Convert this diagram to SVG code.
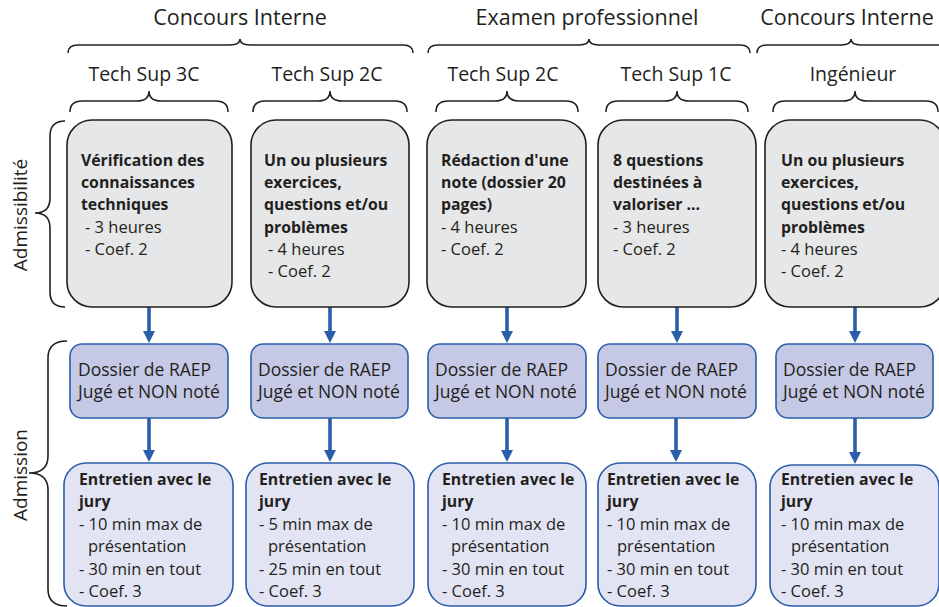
<svg xmlns="http://www.w3.org/2000/svg" width="939" height="607" viewBox="0 0 939 607">
<style>
text{font-family:"Open Sans",Lato,"DejaVu Sans",sans-serif;fill:#231f20}
.h1{font-size:21.5px;text-anchor:middle}
.h2{font-size:19.5px;text-anchor:middle}
.b{font-size:15.8px;font-weight:bold}
.n{font-size:16.5px}
.d{font-size:17.5px}
.brace{fill:none;stroke:#231f20;stroke-width:1.6}
.gray{fill:#e6e7e8;stroke:#231f20;stroke-width:1.6}
.dos{fill:#c5c9e6;stroke:#2b5dab;stroke-width:1.6}
.ent{fill:#e2e4f3;stroke:#2b5dab;stroke-width:1.6}
.arr{stroke:#2b5dab;stroke-width:3.6;fill:none;marker-end:url(#ah)}
.side{font-size:19px;text-anchor:middle}
</style>
<defs>
<marker id="ah" markerUnits="userSpaceOnUse" markerWidth="13" markerHeight="13" refX="6" refY="6" orient="auto">
<path d="M0,0 L12,6 L0,12 Z" fill="#2b5dab"/>
</marker>
</defs>
<g id="headers">
<text class="h1" x="240" y="25">Concours Interne</text>
<text class="h1" x="587" y="25">Examen professionnel</text>
<text class="h1" x="847" y="25">Concours Interne</text>
<path class="brace" d="M68,53 Q68,45 78,45 L230,45 Q240,45 240,39 Q240,45 250,45 L403,45 Q413,45 413,53"/>
<path class="brace" d="M428,53 Q428,45 438,45 L579,45 Q589,45 589,39 Q589,45 599,45 L740,45 Q750,45 750,53"/>
<path class="brace" d="M757,53 Q757,45 767,45 L841,45 Q851,45 851,39 Q851,45 861,45 L945,45"/>
<text class="h2" x="144" y="81">Tech Sup 3C</text>
<text class="h2" x="327" y="81">Tech Sup 2C</text>
<text class="h2" x="503" y="81">Tech Sup 2C</text>
<text class="h2" x="676" y="81">Tech Sup 1C</text>
<text class="h2" x="853" y="81">Ingénieur</text>
<path class="brace" d="M70,112 Q70,101 82,101 L137,101 Q149,101 149,91 Q149,101 161,101 L216,101 Q228,101 228,112"/>
<path class="brace" d="M253,112 Q253,101 265,101 L318,101 Q330,101 330,91 Q330,101 342,101 L395,101 Q407,101 407,112"/>
<path class="brace" d="M436,112 Q436,101 448,101 L495,101 Q507,101 507,91 Q507,101 519,101 L566,101 Q578,101 578,112"/>
<path class="brace" d="M606,112 Q606,101 618,101 L665,101 Q677,101 677,91 Q677,101 689,101 L736,101 Q748,101 748,112"/>
<path class="brace" d="M773,112 Q773,101 785,101 L843,101 Q855,101 855,91 Q855,101 867,101 L926,101 Q938,101 938,112"/>
</g>
<g id="phases">
<path class="brace" d="M65,121 Q50,121 50,136 L50,198 Q50,213 35,213 Q50,213 50,228 L50,292 Q50,307 65,307"/>
<text class="side" transform="translate(27,215) rotate(-90)">Admissibilité</text>
<path class="brace" d="M67,341 Q48,341 48,358 L48,456 Q48,473 29,473 Q48,473 48,490 L48,589 Q48,606 67,606"/>
<text class="side" transform="translate(27,475) rotate(-90)">Admission</text>
</g>
<g id="connectors">
<line class="arr" x1="149" y1="307" x2="149" y2="337"/>
<line class="arr" x1="330" y1="307" x2="330" y2="337"/>
<line class="arr" x1="507" y1="307" x2="507" y2="337"/>
<line class="arr" x1="677" y1="307" x2="677" y2="337"/>
<line class="arr" x1="855" y1="307" x2="855" y2="337"/>
<line class="arr" x1="149" y1="418" x2="149" y2="456"/>
<line class="arr" x1="330" y1="418" x2="330" y2="456"/>
<line class="arr" x1="507" y1="418" x2="507" y2="456"/>
<line class="arr" x1="676" y1="418" x2="676" y2="456"/>
<line class="arr" x1="855" y1="418" x2="855" y2="458"/>
</g>
<g id="adm1">
<rect class="gray" x="67" y="120" width="165" height="187" rx="25"/>
<text class="b" x="81" y="166">Vérification des</text>
<text class="b" x="81" y="188">connaissances</text>
<text class="b" x="81" y="210">techniques</text>
<text class="n" x="85" y="233">- 3 heures</text>
<text class="n" x="85" y="255">- Coef. 2</text>
</g>
<g id="adm2">
<rect class="gray" x="251" y="120" width="158" height="187" rx="25"/>
<text class="b" x="264" y="166">Un ou plusieurs</text>
<text class="b" x="264" y="188">exercices,</text>
<text class="b" x="264" y="210">questions et/ou</text>
<text class="b" x="264" y="233">problèmes</text>
<text class="n" x="268" y="255">- 4 heures</text>
<text class="n" x="268" y="277">- Coef. 2</text>
</g>
<g id="adm3">
<rect class="gray" x="427" y="120" width="159" height="187" rx="25"/>
<text class="b" x="441" y="166">Rédaction d'une</text>
<text class="b" x="441" y="188">note (dossier 20</text>
<text class="b" x="441" y="210">pages)</text>
<text class="n" x="441" y="233">- 4 heures</text>
<text class="n" x="441" y="255">- Coef. 2</text>
</g>
<g id="adm4">
<rect class="gray" x="598" y="120" width="158" height="187" rx="25"/>
<text class="b" x="613" y="166">8 questions</text>
<text class="b" x="613" y="188">destinées à</text>
<text class="b" x="613" y="210">valoriser ...</text>
<text class="n" x="613" y="233">- 3 heures</text>
<text class="n" x="613" y="255">- Coef. 2</text>
</g>
<g id="adm5">
<rect class="gray" x="765" y="120" width="180" height="187" rx="25"/>
<text class="b" x="781" y="166">Un ou plusieurs</text>
<text class="b" x="781" y="188">exercices,</text>
<text class="b" x="781" y="210">questions et/ou</text>
<text class="b" x="781" y="233">problèmes</text>
<text class="n" x="781" y="255">- 4 heures</text>
<text class="n" x="781" y="277">- Coef. 2</text>
</g>
<g id="dos1">
<rect class="dos" x="70" y="344" width="158" height="74" rx="12"/>
<text class="d" x="78" y="376">Dossier de RAEP</text>
<text class="d" x="78" y="398">Jugé et NON noté</text>
</g>
<g id="dos2">
<rect class="dos" x="251" y="344" width="157" height="74" rx="12"/>
<text class="d" x="258" y="376">Dossier de RAEP</text>
<text class="d" x="258" y="398">Jugé et NON noté</text>
</g>
<g id="dos3">
<rect class="dos" x="428" y="344" width="158" height="74" rx="12"/>
<text class="d" x="435" y="376">Dossier de RAEP</text>
<text class="d" x="435" y="398">Jugé et NON noté</text>
</g>
<g id="dos4">
<rect class="dos" x="598" y="344" width="158" height="74" rx="12"/>
<text class="d" x="605" y="376">Dossier de RAEP</text>
<text class="d" x="605" y="398">Jugé et NON noté</text>
</g>
<g id="dos5">
<rect class="dos" x="776" y="344" width="157" height="74" rx="12"/>
<text class="d" x="783" y="376">Dossier de RAEP</text>
<text class="d" x="783" y="398">Jugé et NON noté</text>
</g>
<g id="ent1">
<rect class="ent" x="64" y="463" width="169" height="143" rx="22"/>
<text class="b" x="79" y="485">Entretien avec le</text>
<text class="b" x="79" y="507">jury</text>
<text class="n" x="79" y="530">- 10 min max de</text>
<text class="n" x="88" y="552">présentation</text>
<text class="n" x="79" y="575">- 30 min en tout</text>
<text class="n" x="79" y="597">- Coef. 3</text>
</g>
<g id="ent2">
<rect class="ent" x="246" y="463" width="168" height="143" rx="22"/>
<text class="b" x="259" y="485">Entretien avec le</text>
<text class="b" x="259" y="507">jury</text>
<text class="n" x="259" y="530">- 5 min max de</text>
<text class="n" x="268" y="552">présentation</text>
<text class="n" x="259" y="575">- 25 min en tout</text>
<text class="n" x="259" y="597">- Coef. 3</text>
</g>
<g id="ent3">
<rect class="ent" x="428" y="463" width="158" height="143" rx="22"/>
<text class="b" x="442" y="485">Entretien avec le</text>
<text class="b" x="442" y="507">jury</text>
<text class="n" x="442" y="530">- 10 min max de</text>
<text class="n" x="451" y="552">présentation</text>
<text class="n" x="442" y="575">- 30 min en tout</text>
<text class="n" x="442" y="597">- Coef. 3</text>
</g>
<g id="ent4">
<rect class="ent" x="598" y="463" width="158" height="143" rx="22"/>
<text class="b" x="607" y="485">Entretien avec le</text>
<text class="b" x="607" y="507">jury</text>
<text class="n" x="607" y="530">- 10 min max de</text>
<text class="n" x="617" y="552">présentation</text>
<text class="n" x="607" y="575">- 30 min en tout</text>
<text class="n" x="607" y="597">- Coef. 3</text>
</g>
<g id="ent5">
<rect class="ent" x="770" y="465" width="169" height="141" rx="22"/>
<text class="b" x="781" y="485">Entretien avec le</text>
<text class="b" x="781" y="507">jury</text>
<text class="n" x="781" y="530">- 10 min max de</text>
<text class="n" x="791" y="552">présentation</text>
<text class="n" x="781" y="575">- 30 min en tout</text>
<text class="n" x="781" y="597">- Coef. 3</text>
</g>
</svg>
